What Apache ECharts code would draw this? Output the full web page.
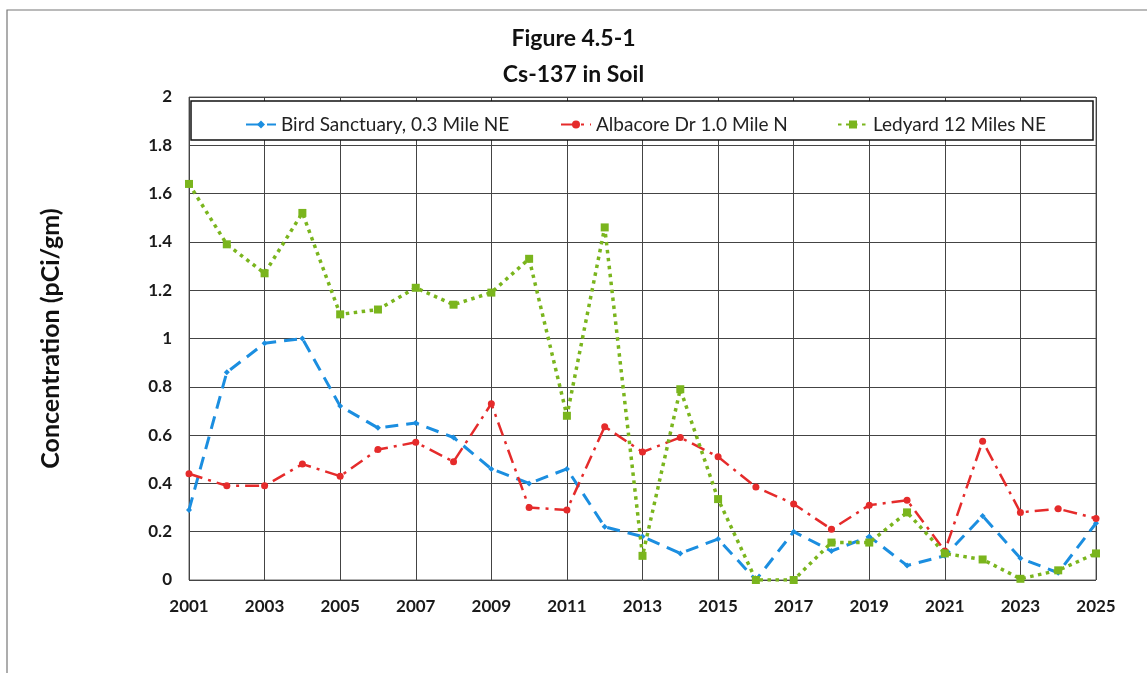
<!DOCTYPE html>
<html>
<head>
<meta charset="utf-8">
<script src="https://cdn.jsdelivr.net/npm/echarts@6/dist/echarts.min.js"></script>
<style>
html,body{margin:0;padding:0;background:#fff;}
#chart{width:1147px;height:673px;}
</style>
</head>
<body>
<div id="chart"></div>
<script>
var years = ['2001','2002','2003','2004','2005','2006','2007','2008','2009','2010','2011','2012','2013','2014','2015','2016','2017','2018','2019','2020','2021','2022','2023','2024','2025'];
var birdSanctuary = [0.29,0.86,0.98,1.00,0.72,0.63,0.65,0.59,0.46,0.40,0.46,0.22,0.18,0.11,0.17,0.00,0.20,0.12,0.18,0.06,0.10,0.265,0.09,0.03,0.235];
var albacore = [0.44,0.39,0.39,0.48,0.43,0.54,0.57,0.49,0.73,0.30,0.29,0.635,0.53,0.59,0.51,0.385,0.315,0.21,0.31,0.33,0.12,0.575,0.28,0.295,0.255];
var ledyard = [1.64,1.39,1.27,1.52,1.10,1.12,1.21,1.14,1.19,1.33,0.68,1.46,0.10,0.79,0.335,0.00,0.00,0.155,0.155,0.28,0.11,0.085,0.005,0.04,0.11];
var seriesNames = ['Bird Sanctuary, 0.3 Mile NE','Albacore Dr 1.0 Mile N','Ledyard 12 Miles NE'];
var titleLines = ['Figure 4.5-1','Cs-137 in Soil'];
var yAxisName = 'Concentration (pCi/gm)';

var FONT = 'Lato, "Open Sans", sans-serif';
var chart = echarts.init(document.getElementById('chart'), null, {renderer:'canvas'});
var legendText = {fontFamily: FONT, fontSize: 19, color: '#222'};
function mkLegend(name, left) {
  return {show:true, z:20, data:[name], left:left, top:110, itemWidth:30, itemHeight:10, itemGap:4, textStyle:legendText, selectedMode:false};
}
chart.setOption({
  animation:false,
  backgroundColor:'#fff',
  title:[
    {text:titleLines[0], left:'center', top:22, textStyle:{fontFamily:FONT, fontWeight:'bold', fontSize:23, color:'#111'}},
    {text:titleLines[1], left:'center', top:58, textStyle:{fontFamily:FONT, fontWeight:'bold', fontSize:23, color:'#111'}}
  ],
  graphic:[
    {type:'polyline', shape:{points:[[7,673],[7,10],[1147,10]]}, style:{stroke:'#777', lineWidth:1.2, fill:null}, z:0},
    {type:'rect', shape:{x:191, y:101, width:902, height:39}, style:{fill:'#fff', stroke:'#111', lineWidth:1.5}, z:5}
  ],
  legend:[
    mkLegend(seriesNames[0], 240),
    mkLegend(seriesNames[1], 555),
    mkLegend(seriesNames[2], 832)
  ],
  grid:{left:189, right:51, top:97, bottom:93, show:true, borderColor:'#666', borderWidth:1},
  xAxis:{
    type:'category', data:years, boundaryGap:false,
    axisLine:{show:false}, axisTick:{show:false},
    axisLabel:{interval:1, margin:18, fontFamily:FONT, fontWeight:'bold', fontSize:17, color:'#1a1a1a'},
    splitLine:{show:true, interval:1, lineStyle:{color:'#444', width:1}}
  },
  yAxis:{
    type:'value', min:0, max:2, interval:0.2,
    name:yAxisName, nameLocation:'middle', nameGap:126,
    nameTextStyle:{fontFamily:FONT, fontWeight:'bold', fontSize:25, color:'#111'},
    axisLine:{show:false}, axisTick:{show:false},
    axisLabel:{margin:17, fontFamily:FONT, fontWeight:'bold', fontSize:17, color:'#1a1a1a'},
    splitLine:{show:true, lineStyle:{color:'#444', width:1}}
  },
  series:[
    {name:seriesNames[0], type:'line', data:birdSanctuary, symbol:'diamond', symbolSize:6,
     itemStyle:{color:'#1b8ee0'}, lineStyle:{color:'#1b8ee0', width:3, type:[13,8]}, z:3},
    {name:seriesNames[1], type:'line', data:albacore, symbol:'circle', symbolSize:7,
     itemStyle:{color:'#e52b2b'}, lineStyle:{color:'#e52b2b', width:2.5, type:[14,6,3,6]}, z:3},
    {name:seriesNames[2], type:'line', data:ledyard, symbol:'rect', symbolSize:8,
     itemStyle:{color:'#7ab51d'}, lineStyle:{color:'#7ab51d', width:3.5, type:[3.5,4.5]}, z:4}
  ]
});
</script>
</body>
</html>
